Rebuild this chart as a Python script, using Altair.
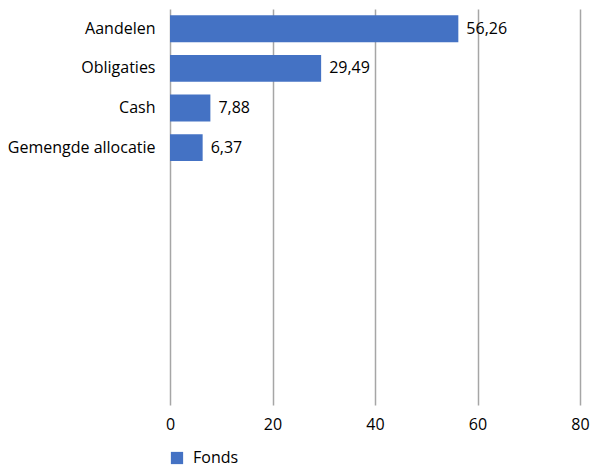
import altair as alt
import pandas as pd

categories = ["Aandelen", "Obligaties", "Cash", "Gemengde allocatie"]
values = [56.26, 29.49, 7.88, 6.37]
placeholders = ["_1", "_2", "_3", "_4", "_5", "_6"]
series = "Fonds"
x_ticks = [0, 20, 40, 60, 80]

df = pd.DataFrame({"cat": categories, "val": values, "series": [series] * len(categories)})
domain = categories + placeholders

font = "Open Sans"
fs = 16

base = alt.Chart(df).encode(
    y=alt.Y("cat:N", scale=alt.Scale(domain=domain, paddingInner=0.32, paddingOuter=0.16),
            axis=alt.Axis(title=None, labelExpr="indexof(datum.value,'_')==0 ? '' : datum.value",
                          ticks=False, domain=False, labelFontSize=fs, labelFont=font,
                          labelColor="#000000", labelPadding=15, grid=False)),
)

bars = base.mark_bar(color="#4472C4").encode(
    x=alt.X("val:Q", scale=alt.Scale(domain=[0, 80], nice=False),
            axis=alt.Axis(title=None, values=x_ticks, grid=True, gridColor="#a6a6a6", gridWidth=1.5,
                          domain=False, ticks=False, labelFontSize=fs, labelFont=font,
                          labelColor="#000000", labelPadding=11, labelFlush=False)),
    color=alt.Color("series:N", scale=alt.Scale(range=["#4472C4"]),
                    legend=alt.Legend(title=None, orient="none", legendX=-1, legendY=441,
                                      symbolType="square", symbolSize=150, labelFontSize=fs,
                                      labelFont=font, labelColor="#000000", padding=0,
                                      symbolStrokeWidth=0, labelOffset=8)),
)

labels = base.mark_text(align="left", dx=8, fontSize=fs, font=font, color="#000000").encode(
    x="val:Q",
    text="lbl:N",
).transform_calculate(lbl="replace(format(datum.val, '.2f'), '.', ',')")

chart = (bars + labels).properties(
    width=410, height=396,
    autosize=alt.AutoSizeParams(type="none"),
    padding={"left": 162, "top": 1, "right": 10, "bottom": 62},
).configure_view(stroke=None)

chart.save("out.html", embed_options={"renderer": "svg", "actions": False})
